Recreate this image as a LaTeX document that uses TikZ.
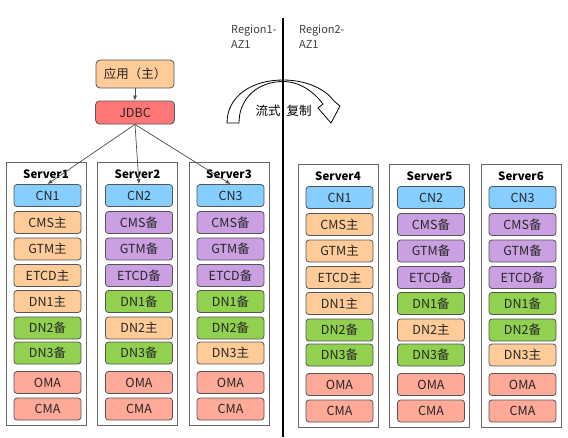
\documentclass[tikz,border=0pt]{standalone}
\usepackage{fontspec}
\setmainfont{Noto Sans CJK SC}
\usetikzlibrary{arrows.meta,calc}
\definecolor{cblue}{HTML}{86CEFF}
\definecolor{cpeach}{HTML}{FFCC99}
\definecolor{cpurp}{HTML}{CBA0E3}
\definecolor{cgreen}{HTML}{92D050}
\definecolor{csalm}{HTML}{FFAA99}
\definecolor{cjdbc}{HTML}{FF7777}
\definecolor{bord}{HTML}{555555}
\tikzset{
  item/.style={draw=bord, line width=0.8pt, rounded corners=3pt, minimum width=67pt, minimum height=22pt, inner sep=0pt, font=\fontsize{12.5}{14}\selectfont, text=black!85},
  srv/.style={draw=black!60, line width=0.8pt, minimum width=80pt, inner sep=0pt},
  srvtitle/.style={font=\fontsize{11.5}{13}\selectfont\bfseries, inner sep=0pt},
  link/.style={draw=black!70, line width=0.7pt, -{Latex[length=5pt,width=4pt]}},
  regtext/.style={font=\fontsize{11}{15}\selectfont, text=black!75, align=left, anchor=north west, inner sep=0pt}
}
\newcommand\mkcol[5]{%
  \node[srv, minimum height=263pt] (#1) at (#2,#3+131.5) {};
  \node[srvtitle] (#1t) at (#2,#3+12) {Server#5};
  \foreach \t/\c/\y [count=\i] in {#4}
    \node[item, fill=\c] (#1-\i) at (#2+1.5,#3+\y) {\t};
}
\begin{document}
\begin{tikzpicture}[x=1pt,y=-1pt]
\useasboundingbox (0,0) rectangle (568,437);
% top app
\node[item, fill=cpeach, minimum width=78pt, minimum height=28pt, rounded corners=4pt] (app) at (135,74) {应用（主）};
\node[item, fill=cjdbc, minimum width=79pt, minimum height=23pt, rounded corners=4pt] (jdbc) at (135,112.5) {JDBC};
\draw[link] (app) -- (jdbc);
% columns
\mkcol{S1}{46}{162}{CN1/cblue/33.5, CMS主/cpeach/60.5, GTM主/cpeach/87, ETCD主/cpeach/113.5, DN1主/cpeach/139.5, DN2备/cgreen/166, DN3备/cgreen/191, OMA/csalm/220.5, CMA/csalm/247}{1}
\mkcol{S2}{137.5}{162}{CN2/cblue/33.5, CMS备/cpurp/60.5, GTM备/cpurp/87, ETCD备/cpurp/113.5, DN1备/cgreen/139.5, DN2主/cpeach/166, DN3备/cgreen/191, OMA/csalm/220.5, CMA/csalm/247}{2}
\mkcol{S3}{229}{162}{CN3/cblue/33.5, CMS备/cpurp/60.5, GTM备/cpurp/87, ETCD备/cpurp/113.5, DN1备/cgreen/139.5, DN2备/cgreen/166, DN3主/cpeach/191, OMA/csalm/220.5, CMA/csalm/247}{3}
\mkcol{S4}{338}{164}{CN1/cblue/33.5, CMS主/cpeach/60.5, GTM主/cpeach/87, ETCD主/cpeach/113.5, DN1主/cpeach/139.5, DN2备/cgreen/166, DN3备/cgreen/191, OMA/csalm/220.5, CMA/csalm/247}{4}
\mkcol{S5}{429.5}{164}{CN2/cblue/33.5, CMS备/cpurp/60.5, GTM备/cpurp/87, ETCD备/cpurp/113.5, DN1备/cgreen/139.5, DN2主/cpeach/166, DN3备/cgreen/191, OMA/csalm/220.5, CMA/csalm/247}{5}
\mkcol{S6}{521}{164}{CN3/cblue/33.5, CMS备/cpurp/60.5, GTM备/cpurp/87, ETCD备/cpurp/113.5, DN1备/cgreen/139.5, DN2备/cgreen/166, DN3主/cpeach/191, OMA/csalm/220.5, CMA/csalm/247}{6}
% links
\draw[link] (jdbc.south) -- (S1-1.north);
\draw[link] (jdbc.south) -- (S2-1.north);
\draw[link] (jdbc.south) -- (S3-1.north);
% curved arrow
\draw[fill=white, line width=0.8pt, line join=miter]
  (227,123) .. controls (227,96) and (252,80) .. (283,80)
  .. controls (308,80) and (326,90) .. (334,101)
  -- (340,106) -- (331,123) -- (318,108) -- (323,104)
  .. controls (314,92) and (300,81.5) .. (283,81.5)
  .. controls (258,81.5) and (239,98) .. (239,123) -- cycle;
\node[font=\fontsize{12.5}{14}\selectfont, inner sep=0pt] (rep) at (283.5,111) {流式\hspace{6pt}复制};
% divider
\coordinate (vt) at (283,18);
\coordinate (vb) at (283,437);
\draw[line width=1.2pt] (vt) -- (vb);
\node[regtext] (r1) at (231,25) {Region1-\\AZ1};
\node[regtext] (r2) at (299,25) {Region2-\\AZ1};
\end{tikzpicture}
\end{document}
